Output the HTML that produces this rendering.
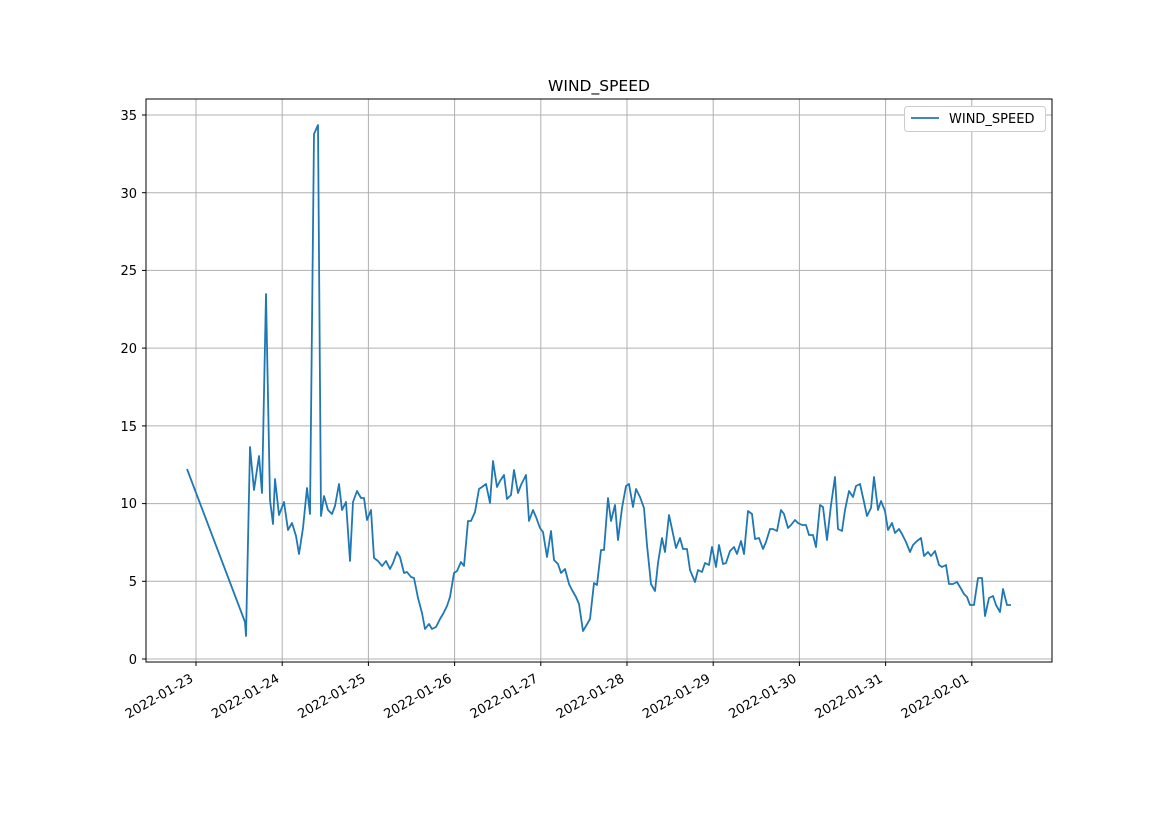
<!DOCTYPE html>
<html><head><meta charset="utf-8"><style>body{margin:0;background:#fff}svg{display:block}text{font-family:"DejaVu Sans","Liberation Sans",sans-serif;font-size:13px;fill:#000}</style></head>
<body>
<svg width="1169" height="827" viewBox="0 0 1169 827" xmlns="http://www.w3.org/2000/svg">
<rect width="1169" height="827" fill="#fff"/>
<g stroke="#b0b0b0" stroke-width="1">
<line x1="196" y1="99" x2="196" y2="662"/><line x1="282.2" y1="99" x2="282.2" y2="662"/><line x1="368.4" y1="99" x2="368.4" y2="662"/><line x1="454.6" y1="99" x2="454.6" y2="662"/><line x1="540.8" y1="99" x2="540.8" y2="662"/><line x1="627" y1="99" x2="627" y2="662"/><line x1="713.2" y1="99" x2="713.2" y2="662"/><line x1="799.4" y1="99" x2="799.4" y2="662"/><line x1="885.6" y1="99" x2="885.6" y2="662"/><line x1="971.8" y1="99" x2="971.8" y2="662"/>
<line x1="146" y1="659" x2="1052" y2="659"/><line x1="146" y1="581.3" x2="1052" y2="581.3"/><line x1="146" y1="503.6" x2="1052" y2="503.6"/><line x1="146" y1="425.9" x2="1052" y2="425.9"/><line x1="146" y1="348.1" x2="1052" y2="348.1"/><line x1="146" y1="270.4" x2="1052" y2="270.4"/><line x1="146" y1="192.7" x2="1052" y2="192.7"/><line x1="146" y1="115" x2="1052" y2="115"/>
</g>
<polyline fill="none" stroke="#1f77b4" stroke-width="1.8" stroke-linejoin="round" points="187,469 245,622 246,636 250,447 254,490 259,456 262,493 266,294 270,500 273,524 275,479 279,515 284,502 288,530 292,523 296,536 299,554 303,528 307,488 310,514 314,134 318,125 321,516 324,496 328,510 332,514 335,506 339,484 342,510 346,502 350,561 353,502 357,491 361,498 364,498 367,520 371,510 374,558 378,561 382,566 386,561 390,569 393,563 397,552 400,557 404,573 407,572 411,577 414,578 418,598 422,613 425,629 429,624 432,629 436,627 440,619 443,614 447,606 450,597 454,573 457,571 461,562 464,566 468,521 471,521 475,512 479,489 482,487 486,484 490,503 493,461 497,487 500,481 504,475 507,499 511,495 514,470 518,493 521,485 526,475 529,521 533,510 536,517 540,528 543,532 547,557 551,531 554,560 558,564 561,573 565,569 569,584 572,590 576,597 579,604 583,631 586,626 590,619 594,583 597,585 601,550 604,550 608,498 611,521 615,505 618,540 622,508 626,486 629,484 633,507 636,489 640,497 644,508 647,545 651,584 655,591 658,563 662,538 665,552 669,515 672,529 676,548 680,538 683,549 687,549 690,570 695,582 698,570 702,572 705,563 709,565 712,547 716,567 719,545 723,564 726,563 730,551 734,547 737,554 741,541 744,554 748,511 752,514 755,539 759,538 763,549 766,542 770,529 773,529 777,531 781,510 784,514 788,528 791,525 795,520 798,523 802,525 806,525 809,535 813,535 816,547 820,505 823,507 827,540 831,505 835,477 838,529 842,531 845,510 849,491 853,497 856,486 860,484 864,502 867,516 871,508 874,477 878,510 881,501 885,511 888,530 892,523 895,533 899,529 902,534 906,542 910,552 913,545 917,541 921,538 924,556 928,552 931,556 935,551 939,565 942,567 946,565 949,584 953,584 957,582 960,587 964,594 967,597 970,605 974,605 978,578 982,578 985,616 989,598 993,596 996,605 1000,612 1003,589 1007,605 1011,605"/>
<rect x="146" y="99" width="906" height="563" fill="none" stroke="#000" stroke-width="1"/>
<g stroke="#000" stroke-width="1">
<line x1="196" y1="662" x2="196" y2="666"/><line x1="282.2" y1="662" x2="282.2" y2="666"/><line x1="368.4" y1="662" x2="368.4" y2="666"/><line x1="454.6" y1="662" x2="454.6" y2="666"/><line x1="540.8" y1="662" x2="540.8" y2="666"/><line x1="627" y1="662" x2="627" y2="666"/><line x1="713.2" y1="662" x2="713.2" y2="666"/><line x1="799.4" y1="662" x2="799.4" y2="666"/><line x1="885.6" y1="662" x2="885.6" y2="666"/><line x1="971.8" y1="662" x2="971.8" y2="666"/>
<line x1="142" y1="659" x2="146" y2="659"/><line x1="142" y1="581.3" x2="146" y2="581.3"/><line x1="142" y1="503.6" x2="146" y2="503.6"/><line x1="142" y1="425.9" x2="146" y2="425.9"/><line x1="142" y1="348.1" x2="146" y2="348.1"/><line x1="142" y1="270.4" x2="146" y2="270.4"/><line x1="142" y1="192.7" x2="146" y2="192.7"/><line x1="142" y1="115" x2="146" y2="115"/>
</g>
<g text-anchor="end">
<text x="137" y="664">0</text><text x="137" y="586">5</text><text x="137" y="508">10</text><text x="137" y="431">15</text><text x="137" y="353">20</text><text x="137" y="275">25</text><text x="137" y="198">30</text><text x="137" y="120">35</text>
</g>
<g text-anchor="end" style="font-size:13.5px">
<text transform="translate(194,681) rotate(-30)">2022-01-23</text>
<text transform="translate(280.2,681) rotate(-30)">2022-01-24</text>
<text transform="translate(366.4,681) rotate(-30)">2022-01-25</text>
<text transform="translate(452.6,681) rotate(-30)">2022-01-26</text>
<text transform="translate(538.8,681) rotate(-30)">2022-01-27</text>
<text transform="translate(625,681) rotate(-30)">2022-01-28</text>
<text transform="translate(711.2,681) rotate(-30)">2022-01-29</text>
<text transform="translate(797.4,681) rotate(-30)">2022-01-30</text>
<text transform="translate(883.6,681) rotate(-30)">2022-01-31</text>
<text transform="translate(969.8,681) rotate(-30)">2022-02-01</text>
</g>
<text x="599" y="91" text-anchor="middle" style="font-size:15.5px">WIND_SPEED</text>
<rect x="904.5" y="106.5" width="141" height="25" rx="3" fill="#fff" stroke="#ccc"/>
<line x1="911" y1="118" x2="939" y2="118" stroke="#1f77b4" stroke-width="1.8"/>
<text x="949" y="123">WIND_SPEED</text>
</svg>
</body></html>
